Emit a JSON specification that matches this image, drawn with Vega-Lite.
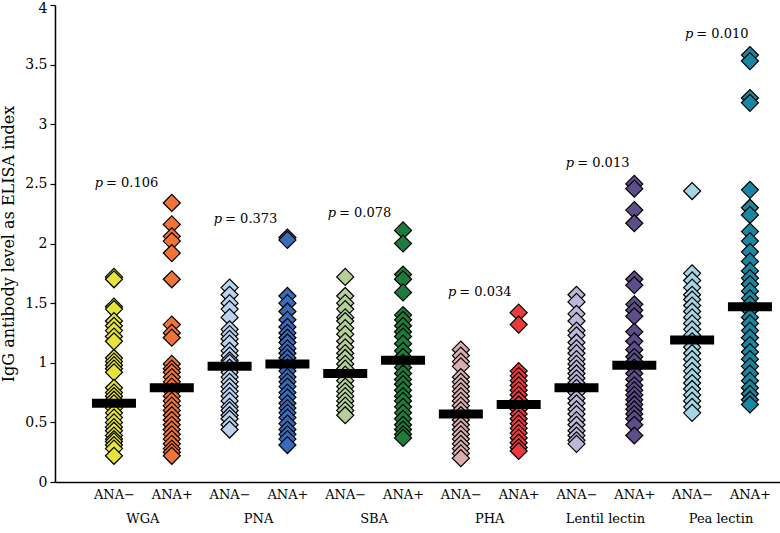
{
  "$schema": "https://vega.github.io/schema/vega-lite/v6.json",
  "width": 725,
  "height": 477,
  "autosize": "none",
  "padding": {"left": 55, "top": 5, "right": 0, "bottom": 51},
  "config": {"view": {"stroke": null}, "font": "DejaVu Serif"},
  "datasets": {
    "points": [
      {"group":1,"value":1.72},{"group":1,"value":1.70},{"group":1,"value":1.47},{"group":1,"value":1.45},{"group":1,"value":1.35},{"group":1,"value":1.31},{"group":1,"value":1.27},{"group":1,"value":1.22},{"group":1,"value":1.18},{"group":1,"value":1.04},{"group":1,"value":1.01},{"group":1,"value":0.98},{"group":1,"value":0.95},{"group":1,"value":0.92},{"group":1,"value":0.79},{"group":1,"value":0.75},{"group":1,"value":0.72},{"group":1,"value":0.69},{"group":1,"value":0.66},{"group":1,"value":0.62},{"group":1,"value":0.58},{"group":1,"value":0.54},{"group":1,"value":0.50},{"group":1,"value":0.46},{"group":1,"value":0.43},{"group":1,"value":0.39},{"group":1,"value":0.36},{"group":1,"value":0.34},{"group":1,"value":0.31},{"group":1,"value":0.28},{"group":1,"value":0.22},
      {"group":2,"value":2.34},{"group":2,"value":2.16},{"group":2,"value":2.06},{"group":2,"value":2.02},{"group":2,"value":1.92},{"group":2,"value":1.70},{"group":2,"value":1.32},{"group":2,"value":1.25},{"group":2,"value":1.21},{"group":2,"value":0.99},{"group":2,"value":0.95},{"group":2,"value":0.92},{"group":2,"value":0.88},{"group":2,"value":0.84},{"group":2,"value":0.80},{"group":2,"value":0.76},{"group":2,"value":0.72},{"group":2,"value":0.68},{"group":2,"value":0.64},{"group":2,"value":0.60},{"group":2,"value":0.56},{"group":2,"value":0.52},{"group":2,"value":0.48},{"group":2,"value":0.44},{"group":2,"value":0.40},{"group":2,"value":0.36},{"group":2,"value":0.32},{"group":2,"value":0.28},{"group":2,"value":0.25},{"group":2,"value":0.22},
      {"group":3,"value":1.63},{"group":3,"value":1.57},{"group":3,"value":1.50},{"group":3,"value":1.45},{"group":3,"value":1.38},{"group":3,"value":1.28},{"group":3,"value":1.24},{"group":3,"value":1.20},{"group":3,"value":1.16},{"group":3,"value":1.10},{"group":3,"value":1.06},{"group":3,"value":1.02},{"group":3,"value":1.00},{"group":3,"value":0.96},{"group":3,"value":0.92},{"group":3,"value":0.88},{"group":3,"value":0.84},{"group":3,"value":0.80},{"group":3,"value":0.76},{"group":3,"value":0.72},{"group":3,"value":0.68},{"group":3,"value":0.63},{"group":3,"value":0.60},{"group":3,"value":0.56},{"group":3,"value":0.53},{"group":3,"value":0.48},{"group":3,"value":0.44},
      {"group":4,"value":2.05},{"group":4,"value":2.03},{"group":4,"value":1.56},{"group":4,"value":1.50},{"group":4,"value":1.43},{"group":4,"value":1.36},{"group":4,"value":1.30},{"group":4,"value":1.25},{"group":4,"value":1.21},{"group":4,"value":1.17},{"group":4,"value":1.12},{"group":4,"value":1.08},{"group":4,"value":1.04},{"group":4,"value":1.00},{"group":4,"value":0.96},{"group":4,"value":0.93},{"group":4,"value":0.88},{"group":4,"value":0.84},{"group":4,"value":0.80},{"group":4,"value":0.75},{"group":4,"value":0.71},{"group":4,"value":0.66},{"group":4,"value":0.62},{"group":4,"value":0.58},{"group":4,"value":0.54},{"group":4,"value":0.49},{"group":4,"value":0.44},{"group":4,"value":0.40},{"group":4,"value":0.36},{"group":4,"value":0.31},
      {"group":5,"value":1.72},{"group":5,"value":1.56},{"group":5,"value":1.50},{"group":5,"value":1.45},{"group":5,"value":1.38},{"group":5,"value":1.35},{"group":5,"value":1.29},{"group":5,"value":1.24},{"group":5,"value":1.18},{"group":5,"value":1.13},{"group":5,"value":1.08},{"group":5,"value":1.04},{"group":5,"value":0.99},{"group":5,"value":0.95},{"group":5,"value":0.90},{"group":5,"value":0.85},{"group":5,"value":0.80},{"group":5,"value":0.76},{"group":5,"value":0.72},{"group":5,"value":0.68},{"group":5,"value":0.64},{"group":5,"value":0.60},{"group":5,"value":0.56},
      {"group":6,"value":2.11},{"group":6,"value":2.00},{"group":6,"value":1.74},{"group":6,"value":1.70},{"group":6,"value":1.59},{"group":6,"value":1.40},{"group":6,"value":1.36},{"group":6,"value":1.31},{"group":6,"value":1.26},{"group":6,"value":1.22},{"group":6,"value":1.16},{"group":6,"value":1.10},{"group":6,"value":1.05},{"group":6,"value":1.00},{"group":6,"value":0.96},{"group":6,"value":0.91},{"group":6,"value":0.86},{"group":6,"value":0.82},{"group":6,"value":0.77},{"group":6,"value":0.72},{"group":6,"value":0.68},{"group":6,"value":0.63},{"group":6,"value":0.58},{"group":6,"value":0.53},{"group":6,"value":0.48},{"group":6,"value":0.44},{"group":6,"value":0.40},{"group":6,"value":0.37},
      {"group":7,"value":1.11},{"group":7,"value":1.06},{"group":7,"value":1.01},{"group":7,"value":0.97},{"group":7,"value":0.88},{"group":7,"value":0.84},{"group":7,"value":0.80},{"group":7,"value":0.76},{"group":7,"value":0.72},{"group":7,"value":0.68},{"group":7,"value":0.64},{"group":7,"value":0.60},{"group":7,"value":0.56},{"group":7,"value":0.52},{"group":7,"value":0.48},{"group":7,"value":0.44},{"group":7,"value":0.40},{"group":7,"value":0.36},{"group":7,"value":0.32},{"group":7,"value":0.28},{"group":7,"value":0.24},{"group":7,"value":0.20},
      {"group":8,"value":1.42},{"group":8,"value":1.32},{"group":8,"value":0.93},{"group":8,"value":0.89},{"group":8,"value":0.85},{"group":8,"value":0.81},{"group":8,"value":0.77},{"group":8,"value":0.73},{"group":8,"value":0.69},{"group":8,"value":0.65},{"group":8,"value":0.61},{"group":8,"value":0.57},{"group":8,"value":0.53},{"group":8,"value":0.49},{"group":8,"value":0.45},{"group":8,"value":0.41},{"group":8,"value":0.37},{"group":8,"value":0.33},{"group":8,"value":0.29},{"group":8,"value":0.26},
      {"group":9,"value":1.57},{"group":9,"value":1.51},{"group":9,"value":1.41},{"group":9,"value":1.35},{"group":9,"value":1.27},{"group":9,"value":1.23},{"group":9,"value":1.17},{"group":9,"value":1.12},{"group":9,"value":1.08},{"group":9,"value":1.03},{"group":9,"value":0.99},{"group":9,"value":0.95},{"group":9,"value":0.91},{"group":9,"value":0.87},{"group":9,"value":0.83},{"group":9,"value":0.79},{"group":9,"value":0.75},{"group":9,"value":0.70},{"group":9,"value":0.66},{"group":9,"value":0.61},{"group":9,"value":0.57},{"group":9,"value":0.52},{"group":9,"value":0.48},{"group":9,"value":0.43},{"group":9,"value":0.39},{"group":9,"value":0.35},{"group":9,"value":0.32},
      {"group":10,"value":2.50},{"group":10,"value":2.46},{"group":10,"value":2.28},{"group":10,"value":2.17},{"group":10,"value":1.70},{"group":10,"value":1.65},{"group":10,"value":1.49},{"group":10,"value":1.44},{"group":10,"value":1.39},{"group":10,"value":1.26},{"group":10,"value":1.18},{"group":10,"value":1.11},{"group":10,"value":1.05},{"group":10,"value":1.01},{"group":10,"value":0.96},{"group":10,"value":0.91},{"group":10,"value":0.86},{"group":10,"value":0.81},{"group":10,"value":0.77},{"group":10,"value":0.73},{"group":10,"value":0.69},{"group":10,"value":0.65},{"group":10,"value":0.61},{"group":10,"value":0.57},{"group":10,"value":0.53},{"group":10,"value":0.48},{"group":10,"value":0.39},
      {"group":11,"value":2.44},{"group":11,"value":1.75},{"group":11,"value":1.69},{"group":11,"value":1.63},{"group":11,"value":1.57},{"group":11,"value":1.53},{"group":11,"value":1.48},{"group":11,"value":1.43},{"group":11,"value":1.38},{"group":11,"value":1.33},{"group":11,"value":1.28},{"group":11,"value":1.23},{"group":11,"value":1.18},{"group":11,"value":1.13},{"group":11,"value":1.08},{"group":11,"value":1.03},{"group":11,"value":0.98},{"group":11,"value":0.93},{"group":11,"value":0.88},{"group":11,"value":0.83},{"group":11,"value":0.78},{"group":11,"value":0.73},{"group":11,"value":0.68},{"group":11,"value":0.63},{"group":11,"value":0.58},
      {"group":12,"value":3.58},{"group":12,"value":3.53},{"group":12,"value":3.22},{"group":12,"value":3.18},{"group":12,"value":2.45},{"group":12,"value":2.30},{"group":12,"value":2.24},{"group":12,"value":2.10},{"group":12,"value":2.02},{"group":12,"value":1.93},{"group":12,"value":1.85},{"group":12,"value":1.77},{"group":12,"value":1.71},{"group":12,"value":1.66},{"group":12,"value":1.60},{"group":12,"value":1.54},{"group":12,"value":1.49},{"group":12,"value":1.44},{"group":12,"value":1.38},{"group":12,"value":1.33},{"group":12,"value":1.27},{"group":12,"value":1.21},{"group":12,"value":1.15},{"group":12,"value":1.09},{"group":12,"value":1.03},{"group":12,"value":0.97},{"group":12,"value":0.91},{"group":12,"value":0.85},{"group":12,"value":0.79},{"group":12,"value":0.74},{"group":12,"value":0.69},{"group":12,"value":0.65}
    ],
    "medians": [
      {"group":1,"median":0.66},{"group":2,"median":0.79},{"group":3,"median":0.97},{"group":4,"median":0.99},
      {"group":5,"median":0.91},{"group":6,"median":1.02},{"group":7,"median":0.57},{"group":8,"median":0.65},
      {"group":9,"median":0.79},{"group":10,"median":0.98},{"group":11,"median":1.19},{"group":12,"median":1.47}
    ],
    "pvalues": [
      {"lectin":"WGA","px":0.81,"py":2.47,"label":"= 0.106"},
      {"lectin":"PNA","px":2.87,"py":2.17,"label":"= 0.373"},
      {"lectin":"SBA","px":4.84,"py":2.22,"label":"= 0.078"},
      {"lectin":"PHA","px":6.92,"py":1.56,"label":"= 0.034"},
      {"lectin":"Lentil lectin","px":8.96,"py":2.64,"label":"= 0.013"},
      {"lectin":"Pea lectin","px":11.02,"py":3.72,"label":"= 0.010"}
    ],
    "lectins": [
      {"lectin":"WGA","mid":1.5},{"lectin":"PNA","mid":3.5},{"lectin":"SBA","mid":5.5},
      {"lectin":"PHA","mid":7.5},{"lectin":"Lentil lectin","mid":9.5},{"lectin":"Pea lectin","mid":11.5}
    ]
  },
  "layer": [
    {
      "data": {"name": "points"},
      "mark": {"type": "point", "shape": "diamond", "filled": true, "size": 290, "stroke": "black", "strokeWidth": 1.2, "opacity": 1},
      "encoding": {
        "x": {"field": "group", "type": "quantitative",
              "scale": {"domain": [-0.02, 12.52], "nice": false, "zero": false},
              "axis": {"values": [1,2,3,4,5,6,7,8,9,10,11,12], "labelExpr": "datum.value % 2 == 1 ? 'ANA−' : 'ANA+'", "tickSize": 0, "labelPadding": 6, "labelFontSize": 13, "labelColor": "black", "labelFont": "DejaVu Serif", "title": null, "grid": false, "domainColor": "black", "domainWidth": 1.5, "labelFlush": false, "labelOverlap": false}},
        "y": {"field": "value", "type": "quantitative",
              "scale": {"domain": [0, 4], "nice": false},
              "axis": {"values": [0,0.5,1,1.5,2,2.5,3,3.5,4], "format": "~g", "title": "IgG antibody level as ELISA index", "grid": false, "domainColor": "black", "domainWidth": 1.5, "tickColor": "black", "tickWidth": 1.2, "tickSize": 5, "labelColor": "black", "labelFontSize": 14, "labelFont": "DejaVu Serif", "labelPadding": 3, "labelOffset": {"condition": {"test": "datum.value == 4", "value": 3}, "value": 0}, "titleFont": "DejaVu Serif", "titleFontSize": 16, "titleFontWeight": "normal", "titleColor": "black", "titlePadding": 8}},
        "color": {"field": "group", "type": "nominal", "legend": null,
                  "scale": {"domain": [1,2,3,4,5,6,7,8,9,10,11,12],
                            "range": ["#e6e43c", "#f0743a", "#b9d2ee", "#386cba", "#b6cf99", "#1f7b3b", "#d8aeae", "#ec3a3c", "#bcb7d6", "#5d4e8a", "#a5d5e3", "#1a87a2"]}}
      }
    },
    {
      "data": {"name": "medians"},
      "mark": {"type": "tick", "orient": "horizontal", "thickness": 9, "size": 44, "color": "black", "opacity": 1},
      "encoding": {
        "x": {"field": "group", "type": "quantitative"},
        "y": {"field": "median", "type": "quantitative"}
      }
    },
    {
      "data": {"name": "pvalues"},
      "mark": {"type": "text", "text": "p", "fontStyle": "italic", "font": "DejaVu Serif", "fontSize": 13, "align": "right", "baseline": "alphabetic", "color": "black"},
      "encoding": {
        "x": {"field": "px", "type": "quantitative"},
        "y": {"field": "py", "type": "quantitative"}
      }
    },
    {
      "data": {"name": "pvalues"},
      "mark": {"type": "text", "font": "DejaVu Serif", "fontSize": 13, "align": "left", "baseline": "alphabetic", "dx": 3, "color": "black"},
      "encoding": {
        "x": {"field": "px", "type": "quantitative"},
        "y": {"field": "py", "type": "quantitative"},
        "text": {"field": "label"}
      }
    },
    {
      "data": {"name": "lectins"},
      "mark": {"type": "text", "font": "DejaVu Serif", "fontSize": 13, "align": "center", "baseline": "alphabetic", "color": "black"},
      "encoding": {
        "x": {"field": "mid", "type": "quantitative"},
        "y": {"datum": -0.34},
        "text": {"field": "lectin"}
      }
    }
  ]
}
